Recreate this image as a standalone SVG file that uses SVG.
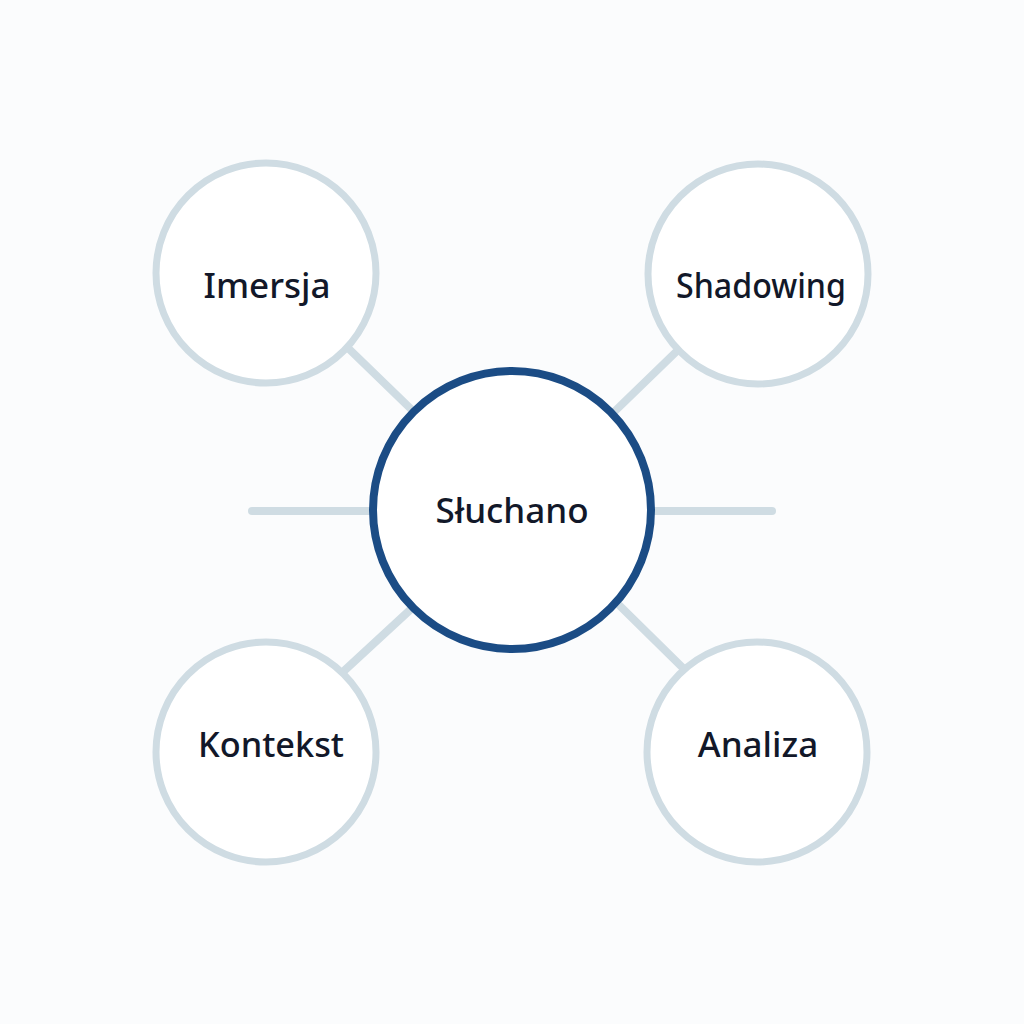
<svg xmlns="http://www.w3.org/2000/svg" width="1024" height="1024" viewBox="0 0 1024 1024">
<style>
.conn{stroke:#cfdce3;stroke-width:8;stroke-linecap:round;fill:none}
.sat{fill:#ffffff;stroke:#cfdce3;stroke-width:7}
.hub{fill:#ffffff;stroke:#1b4c85;stroke-width:8}
.lbl{font-family:"Noto Sans","Open Sans",sans-serif;font-weight:500;font-size:35px;fill:#121829;text-anchor:middle}
</style>
<rect width="1024" height="1024" fill="#fbfcfd"/>
<g id="connectors">
<line class="conn" x1="348" y1="348" x2="412" y2="410"/>
<line class="conn" x1="678" y1="350" x2="614" y2="412"/>
<line class="conn" x1="345" y1="670" x2="410" y2="610"/>
<line class="conn" x1="620" y1="606" x2="685" y2="670"/>
<line class="conn" x1="252" y1="511" x2="370" y2="511"/>
<line class="conn" x1="654" y1="511" x2="772" y2="511"/>
</g>
<g id="node-imersja">
<circle class="sat" cx="266" cy="273" r="110"/>
<text class="lbl" x="267" y="298">Imersja</text>
</g>
<g id="node-shadowing">
<circle class="sat" cx="758" cy="274" r="110"/>
<text class="lbl" x="761" y="298" textLength="170" lengthAdjust="spacingAndGlyphs">Shadowing</text>
</g>
<g id="node-kontekst">
<circle class="sat" cx="266" cy="752" r="110"/>
<text class="lbl" x="271" y="757" textLength="146" lengthAdjust="spacingAndGlyphs">Kontekst</text>
</g>
<g id="node-analiza">
<circle class="sat" cx="757" cy="752" r="110"/>
<text class="lbl" x="758" y="757">Analiza</text>
</g>
<g id="node-sluchano">
<circle class="hub" cx="512" cy="510" r="139"/>
<text class="lbl" x="512" y="523">Słuchano</text>
</g>
</svg>
